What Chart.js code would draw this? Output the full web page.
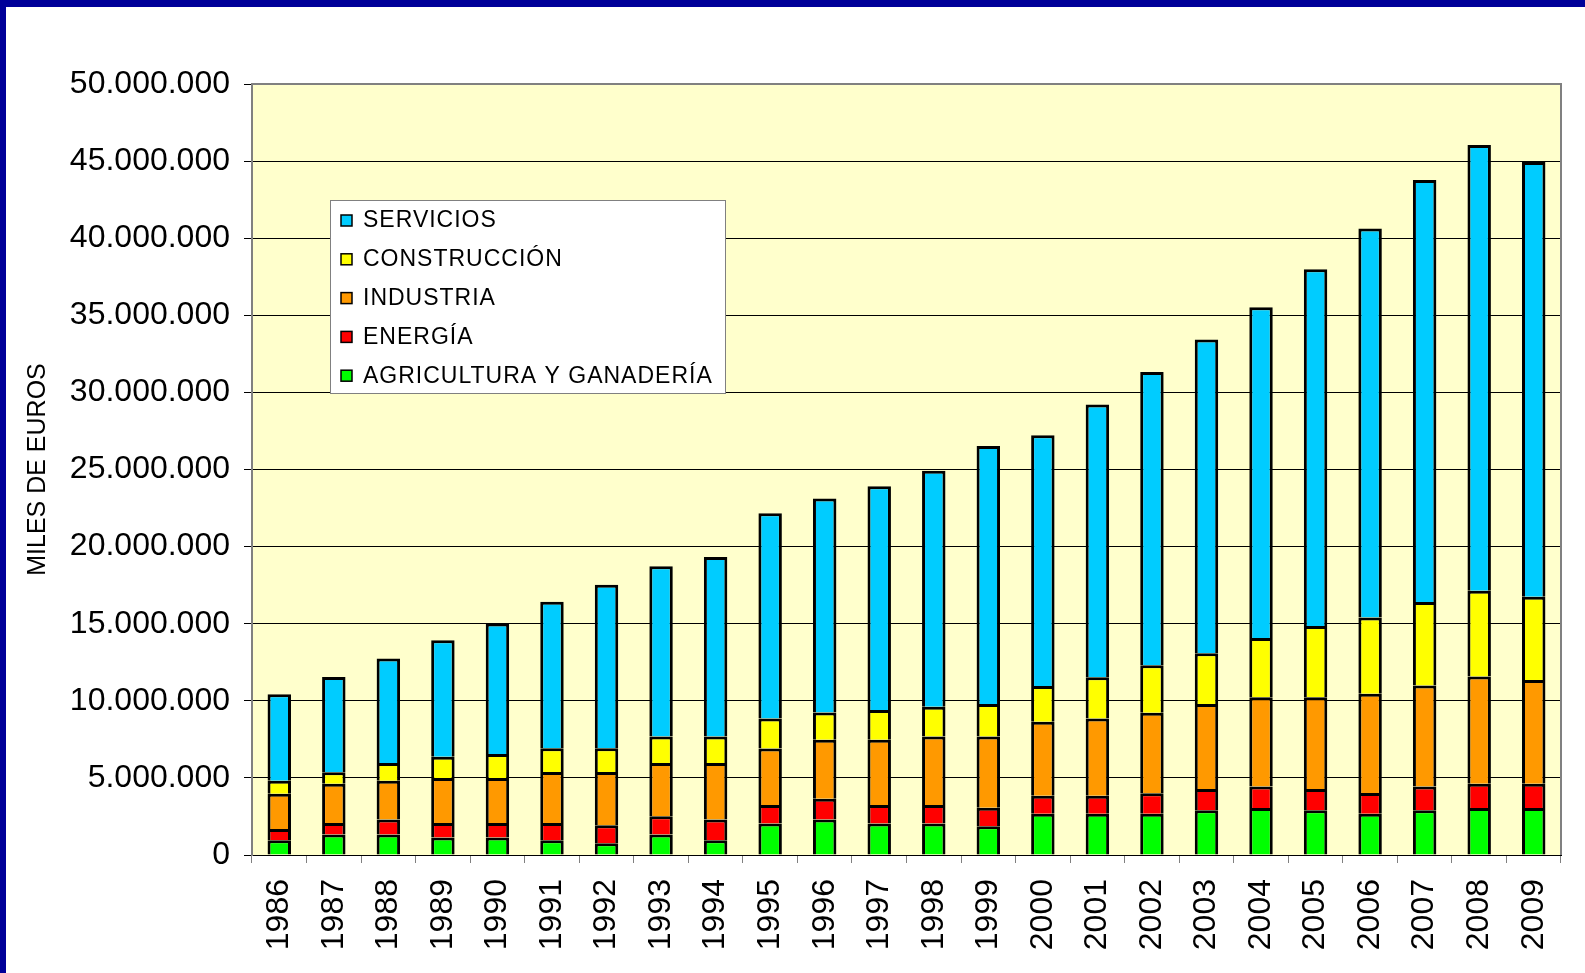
<!DOCTYPE html>
<html>
<head>
<meta charset="utf-8">
<script src="https://cdn.jsdelivr.net/npm/chart.js@4.4.1/dist/chart.umd.min.js"></script>
<style>
  html, body { margin: 0; padding: 0; background: #ffffff; }
  canvas { display: block; }
</style>
</head>
<body>
<canvas id="c" width="1585" height="973"></canvas>
<script>
// ---- DATA (miles de euros) ----
const years = ['1986','1987','1988','1989','1990','1991','1992','1993','1994','1995','1996','1997','1998','1999','2000','2001','2002','2003','2004','2005','2006','2007','2008','2009'];
const agricultura = [960000,1330000,1330000,1130000,1130000,960000,760000,1330000,960000,2040000,2300000,2040000,2040000,1860000,2680000,2680000,2680000,2900000,3050000,2900000,2680000,2900000,3050000,3050000];
const energia = [730000,750000,970000,950000,950000,1120000,1170000,1180000,1340000,1210000,1340000,1210000,1210000,1210000,1170000,1170000,1320000,1380000,1400000,1380000,1340000,1550000,1570000,1570000];
const industria = [2290000,2540000,2520000,2910000,2910000,3300000,3450000,3450000,3660000,3660000,3830000,4220000,4430000,4610000,4790000,5000000,5220000,5520000,5780000,5950000,6430000,6550000,6950000,6730000];
const construccion = [840000,740000,1140000,1380000,1560000,1550000,1550000,1720000,1720000,1940000,1770000,1940000,1940000,2120000,2320000,2680000,3080000,3280000,3840000,4620000,4950000,5400000,5560000,5390000];
const servicios = [5600000,6190000,6790000,7550000,8470000,9490000,10590000,11040000,11640000,13320000,13880000,14510000,15300000,16720000,16260000,17690000,19030000,20350000,21460000,23130000,25230000,27380000,28920000,28200000];
const seriesLabels = ['AGRICULTURA Y GANADERÍA','ENERGÍA','INDUSTRIA','CONSTRUCCIÓN','SERVICIOS'];
const yAxisTitle = 'MILES DE EUROS';
const yMax = 50000000;
const yStep = 5000000;

const colors = ['#00FF00','#FF0000','#FF9900','#FFFF00','#00CCFF'];
const FONT = '"Liberation Sans", Arial, sans-serif';

function fmt(v) {
  return String(Math.round(v)).replace(/\B(?=(\d{3})+(?!\d))/g, '.');
}

const bgPlugin = {
  id: 'bg',
  beforeDraw(chart) {
    const {ctx, chartArea: a} = chart;
    ctx.save();
    ctx.fillStyle = '#ffffff';
    ctx.fillRect(0, 0, chart.width, chart.height);
    ctx.fillStyle = '#FFFFCC';
    ctx.fillRect(a.left, a.top, a.right - a.left, a.bottom - a.top);
    ctx.restore();
  },
  afterDraw(chart) {
    const {ctx, chartArea: a} = chart;
    ctx.save();
    // plot border (top / right)
    ctx.strokeStyle = '#808080';
    ctx.lineWidth = 2;
    ctx.beginPath();
    ctx.moveTo(a.left, a.top);
    ctx.lineTo(a.right, a.top);
    ctx.lineTo(a.right, a.bottom);
    ctx.stroke();
    // legend
    const lx = 330, ly = 200, lw = 395, lh = 193;
    ctx.fillStyle = '#ffffff';
    ctx.fillRect(lx, ly, lw, lh);
    ctx.strokeStyle = '#808080';
    ctx.lineWidth = 1;
    ctx.strokeRect(lx + 0.5, ly + 0.5, lw, lh);
    ctx.font = '23px ' + FONT;
    try { ctx.letterSpacing = '1px'; } catch (e) {}
    ctx.textBaseline = 'middle';
    ctx.textAlign = 'left';
    const ds = chart.data.datasets;
    for (let i = 0; i < ds.length; i++) {
      const d = ds[ds.length - 1 - i];
      const cy = 220 + i * 38.8;
      ctx.fillStyle = d.backgroundColor;
      ctx.fillRect(341, cy - 5, 11, 11);
      ctx.strokeStyle = '#000';
      ctx.lineWidth = 1.5;
      ctx.strokeRect(341, cy - 5, 11, 11);
      ctx.fillStyle = '#000';
      ctx.fillText(d.label, 363, cy + 1);
    }
    try { ctx.letterSpacing = '0px'; } catch (e) {}
    // navy frame
    ctx.fillStyle = '#000099';
    ctx.fillRect(0, 0, chart.width, 7);
    ctx.fillRect(0, 0, 6, chart.height);
    ctx.restore();
  }
};

const seriesData = [agricultura, energia, industria, construccion, servicios];

new Chart(document.getElementById('c'), {
  type: 'bar',
  data: {
    labels: years,
    datasets: seriesData.map((arr, i) => ({
      label: seriesLabels[i],
      data: arr,
      backgroundColor: colors[i],
      borderColor: '#000000',
      borderWidth: 3,
      barPercentage: 0.43,
      categoryPercentage: 1.0
    }))
  },
  options: {
    responsive: false,
    animation: false,
    devicePixelRatio: 1,
    layout: { padding: { left: 0, top: 84, right: 24, bottom: 0 } },
    plugins: {
      legend: { display: false },
      tooltip: { enabled: false }
    },
    scales: {
      x: {
        stacked: true,
        grid: { display: true, drawOnChartArea: false, drawTicks: true, tickLength: 8, color: '#808080', offset: true },
        border: { display: true, color: '#000000', width: 1 },
        ticks: {
          maxRotation: 90, minRotation: 90, autoSkip: false,
          padding: 16, color: '#000',
          font: { family: FONT, size: 32 }
        },
        afterFit(scale) {
          scale.height = 118;
          scale.paddingRight = 0;
          scale.paddingLeft = 0;
        }
      },
      y: {
        stacked: true,
        min: 0, max: yMax,
        ticks: {
          stepSize: yStep, padding: 14, color: '#000',
          font: { family: FONT, size: 32 },
          callback: (v) => fmt(v)
        },
        grid: { color: '#000000', lineWidth: 1, tickLength: 8, drawTicks: true },
        border: { display: true, color: '#808080', width: 2 },
        title: {
          display: true, text: yAxisTitle, color: '#000',
          font: { family: FONT, size: 25 },
          padding: { top: 23, bottom: 0 }
        },
        afterFit(scale) {
          scale.width = 252;
          scale.paddingTop = 0;
          scale.paddingBottom = 0;
        }
      }
    }
  },
  plugins: [bgPlugin]
});
</script>
</body>
</html>
